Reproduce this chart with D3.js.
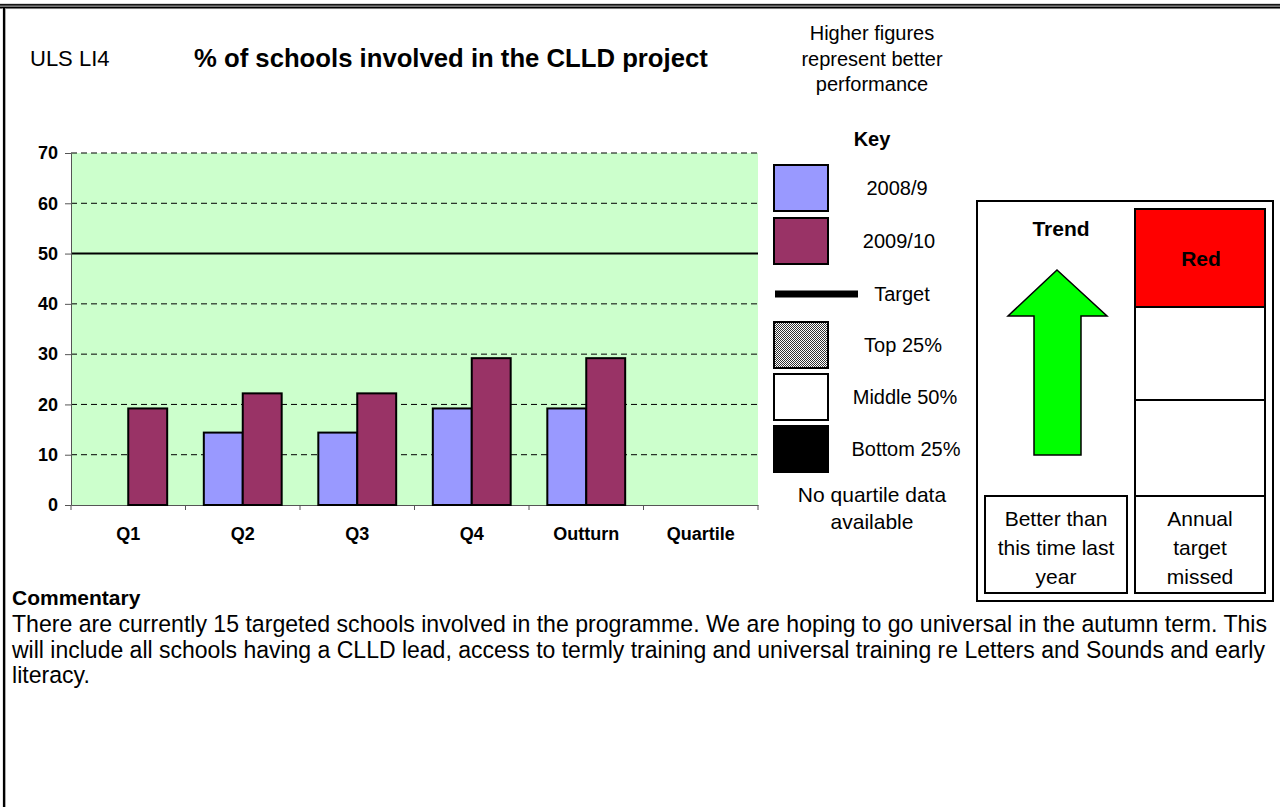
<!DOCTYPE html>
<html>
<head>
<meta charset="utf-8">
<script src="https://cdn.jsdelivr.net/npm/d3@7"></script>
<style>
  html, body { margin: 0; padding: 0; background: #fff; }
  svg { display: block; font-family: Arial, "Liberation Sans", sans-serif; }
</style>
</head>
<body>
<svg id="chart" width="1280" height="807"></svg>
<script>
// ---------------- data ----------------
const categories = ["Q1", "Q2", "Q3", "Q4", "Outturn", "Quartile"];
const seriesNames = ["2008/9", "2009/10"];
const values2008 = [null, 14.4, 14.4, 19.2, 19.2, null];
const values2009 = [19.2, 22.2, 22.2, 29.2, 29.2, null];
const targetValue = 50;
const yTicks = [0, 10, 20, 30, 40, 50, 60, 70];
const seriesColors = ["#9999FF", "#993366"];
const chartTitle = "% of schools involved in the CLLD project";
const indicatorCode = "ULS LI4";
const noteLines = ["Higher figures", "represent better", "performance"];
const legendLabels = ["2008/9", "2009/10", "Target", "Top 25%", "Middle 50%", "Bottom 25%"];
const quartileNote = ["No quartile data", "available"];
const trendLabel = ["Better than", "this time last", "year"];
const targetLabel = ["Annual", "target", "missed"];
const commentaryLines = [
  "There are currently 15 targeted schools involved in the programme. We are hoping to go universal in the autumn term. This",
  "will include all schools having a CLLD lead, access to termly training and universal training re Letters and Sounds and early",
  "literacy."
];

// ---------------- setup ----------------
const svg = d3.select("#chart");
const defs = svg.append("defs");
const pat = defs.append("pattern").attr("id", "dots").attr("width", 2).attr("height", 2)
  .attr("patternUnits", "userSpaceOnUse");
pat.append("rect").attr("width", 2).attr("height", 2).attr("fill", "#fff");
pat.append("rect").attr("x", 0).attr("y", 0).attr("width", 1).attr("height", 1).attr("fill", "#333");
pat.append("rect").attr("x", 1).attr("y", 1).attr("width", 1).attr("height", 1).attr("fill", "#333");

// scale font size so that the text's natural width equals target
function fitFont(sel, target) {
  const w = sel.node().getComputedTextLength();
  const fs = parseFloat(sel.attr("font-size"));
  const nfs = fs * target / w;
  sel.attr("font-size", nfs);
  return nfs;
}

// page frame: double top rule and left rule
svg.append("rect").attr("x", 0).attr("y", 3.3).attr("width", 1280).attr("height", 5.8).attr("fill", "#c8c8c8");
svg.append("rect").attr("x", 0).attr("y", 4.1).attr("width", 1280).attr("height", 1.5).attr("fill", "#000");
svg.append("rect").attr("x", 0).attr("y", 6.6).attr("width", 1280).attr("height", 1.8).attr("fill", "#000");
svg.append("rect").attr("x", 2.6).attr("y", 8).attr("width", 3).attr("height", 799).attr("fill", "#bbb");
svg.append("rect").attr("x", 3).attr("y", 8).attr("width", 2.2).attr("height", 799).attr("fill", "#000");

// titles
svg.append("text").attr("x", 30).attr("y", 66).attr("font-size", 22).text(indicatorCode);
const title = svg.append("text").attr("x", 194).attr("y", 67).attr("font-size", 24)
  .attr("font-weight", "bold").text(chartTitle);
fitFont(title, 514);

svg.append("g").selectAll("text").data(noteLines).join("text")
  .attr("x", 872).attr("y", (d, i) => 40 + i * 25.5)
  .attr("text-anchor", "middle").attr("font-size", 20).text(d => d);

// ---------------- chart ----------------
const plot = { left: 71, right: 758, top: 153, bottom: 505 };
const x = d3.scaleBand().domain(categories).range([plot.left, plot.right]).paddingInner(0).paddingOuter(0);
const bw = x.bandwidth();
const x1 = d3.scaleBand().domain(seriesNames).range([bw * 0.16, bw * 0.84]).padding(0);
const y = d3.scaleLinear().domain([0, 70]).range([plot.bottom, plot.top]);

svg.append("rect").attr("x", plot.left).attr("y", plot.top)
  .attr("width", plot.right - plot.left).attr("height", plot.bottom - plot.top).attr("fill", "#CCFFCC");

// dashed gridlines
svg.append("g").selectAll("line").data(yTicks.filter(t => t > 0 && t !== targetValue)).join("line")
  .attr("x1", plot.left).attr("x2", plot.right)
  .attr("y1", d => y(d)).attr("y2", d => y(d))
  .attr("stroke", "#000").attr("stroke-width", 1).attr("stroke-dasharray", "6,4");

// target line
svg.append("line").attr("x1", plot.left).attr("x2", plot.right)
  .attr("y1", y(targetValue)).attr("y2", y(targetValue))
  .attr("stroke", "#000").attr("stroke-width", 2);

// y axis
const yAxis = svg.append("g").attr("transform", `translate(${plot.left},0)`)
  .call(d3.axisLeft(y).tickValues(yTicks).tickSize(6).tickPadding(7).tickSizeOuter(0));
yAxis.select(".domain").attr("stroke", "#555");
yAxis.selectAll(".tick line").attr("stroke", "#555");
yAxis.selectAll(".tick text").attr("font-size", 18).attr("font-weight", "bold")
  .attr("font-family", "Arial, 'Liberation Sans', sans-serif").attr("fill", "#000");

// x axis
const xAxis = svg.append("g").attr("transform", `translate(0,${plot.bottom})`)
  .call(d3.axisBottom(x).tickSize(0).tickPadding(0));
xAxis.select(".domain").attr("stroke", "#555");
xAxis.selectAll(".tick text").attr("font-size", 18).attr("font-weight", "bold")
  .attr("font-family", "Arial, 'Liberation Sans', sans-serif").attr("fill", "#000")
  .attr("dy", null).attr("y", 35);
// category boundary ticks
svg.append("g").selectAll("line").data(categories.concat(["_end"])).join("line")
  .attr("x1", (d, i) => i < categories.length ? x(d) : plot.right)
  .attr("x2", (d, i) => i < categories.length ? x(d) : plot.right)
  .attr("y1", plot.bottom).attr("y2", plot.bottom + 5)
  .attr("stroke", "#555").attr("stroke-width", 1);

// bars
const barData = [];
categories.forEach((c, i) => {
  [values2008[i], values2009[i]].forEach((v, s) => {
    if (v !== null) barData.push({ cat: c, series: seriesNames[s], value: v, color: seriesColors[s] });
  });
});
svg.append("g").selectAll("rect").data(barData).join("rect")
  .attr("x", d => x(d.cat) + x1(d.series))
  .attr("y", d => y(d.value))
  .attr("width", x1.bandwidth())
  .attr("height", d => y(0) - y(d.value))
  .attr("fill", d => d.color)
  .attr("stroke", "#000").attr("stroke-width", 2);

// ---------------- key ----------------
svg.append("text").attr("x", 872).attr("y", 146).attr("text-anchor", "middle")
  .attr("font-size", 20).attr("font-weight", "bold").text("Key");

const keyBoxes = [
  { y: 165, fill: seriesColors[0], label: legendLabels[0], tx: 897 },
  { y: 218, fill: seriesColors[1], label: legendLabels[1], tx: 899 },
  { y: 322, fill: "url(#dots)", label: legendLabels[3], tx: 903 },
  { y: 374, fill: "#fff", label: legendLabels[4], tx: 905 },
  { y: 426, fill: "#000", label: legendLabels[5], tx: 906 }
];
svg.append("g").selectAll("rect").data(keyBoxes).join("rect")
  .attr("x", 774).attr("y", d => d.y).attr("width", 54).attr("height", 46)
  .attr("fill", d => d.fill).attr("stroke", "#000").attr("stroke-width", 2);
svg.append("g").selectAll("text").data(keyBoxes).join("text")
  .attr("x", d => d.tx).attr("y", d => d.y + 30).attr("text-anchor", "middle")
  .attr("font-size", 20).text(d => d.label);

svg.append("rect").attr("x", 775).attr("y", 290.5).attr("width", 83).attr("height", 7).attr("fill", "#000");
svg.append("text").attr("x", 902).attr("y", 301).attr("text-anchor", "middle")
  .attr("font-size", 20).text(legendLabels[2]);

svg.append("g").selectAll("text").data(quartileNote).join("text")
  .attr("x", 872).attr("y", (d, i) => 502 + i * 27).attr("text-anchor", "middle")
  .attr("font-size", 21).text(d => d);

// ---------------- trend / RAG panel ----------------
svg.append("rect").attr("x", 977).attr("y", 201).attr("width", 296).attr("height", 400)
  .attr("fill", "#fff").attr("stroke", "#000").attr("stroke-width", 2);
svg.append("text").attr("x", 1061).attr("y", 236).attr("text-anchor", "middle")
  .attr("font-size", 21).attr("font-weight", "bold").text("Trend");

// arrow
const arrowPts = [[1057, 270], [1107, 316], [1081, 316], [1081, 455], [1034, 455], [1034, 316], [1008, 316]];
svg.append("polygon").attr("points", arrowPts.map(p => p.join(",")).join(" "))
  .attr("fill", "#00FF00").attr("stroke", "#000").attr("stroke-width", 1.5).attr("stroke-linejoin", "miter");

// RAG column
svg.append("rect").attr("x", 1135).attr("y", 209).attr("width", 130).attr("height", 98)
  .attr("fill", "#FF0000").attr("stroke", "#000").attr("stroke-width", 2);
svg.append("rect").attr("x", 1135).attr("y", 307).attr("width", 130).attr("height", 93)
  .attr("fill", "#fff").attr("stroke", "#000").attr("stroke-width", 2);
svg.append("rect").attr("x", 1135).attr("y", 400).attr("width", 130).attr("height", 96)
  .attr("fill", "#fff").attr("stroke", "#000").attr("stroke-width", 2);
svg.append("text").attr("x", 1201).attr("y", 266).attr("text-anchor", "middle")
  .attr("font-size", 21).attr("font-weight", "bold").text("Red");

svg.append("rect").attr("x", 985).attr("y", 496).attr("width", 142).attr("height", 97)
  .attr("fill", "#fff").attr("stroke", "#000").attr("stroke-width", 2);
svg.append("rect").attr("x", 1135).attr("y", 496).attr("width", 130).attr("height", 97)
  .attr("fill", "#fff").attr("stroke", "#000").attr("stroke-width", 2);
svg.append("g").selectAll("text").data(trendLabel).join("text")
  .attr("x", 1056).attr("y", (d, i) => 526 + i * 29).attr("text-anchor", "middle")
  .attr("font-size", 21).text(d => d);
svg.append("g").selectAll("text").data(targetLabel).join("text")
  .attr("x", 1200).attr("y", (d, i) => 526 + i * 29).attr("text-anchor", "middle")
  .attr("font-size", 21).text(d => d);

// ---------------- commentary ----------------
svg.append("text").attr("x", 12).attr("y", 605).attr("font-size", 21)
  .attr("font-weight", "bold").text("Commentary");
const cl = svg.append("g").selectAll("text").data(commentaryLines).join("text")
  .attr("x", 12).attr("y", (d, i) => 632 + i * 25.5).attr("font-size", 20).text(d => d);
const bodyFs = fitFont(d3.select(cl.nodes()[0]), 1256);
cl.attr("font-size", bodyFs);
const l2 = d3.select(cl.nodes()[1]);
const w2 = l2.node().getComputedTextLength();
if (w2 < 1252) l2.attr("textLength", 1252).attr("lengthAdjust", "spacing");
else l2.attr("font-size", bodyFs * 1252 / w2);
</script>
</body>
</html>
